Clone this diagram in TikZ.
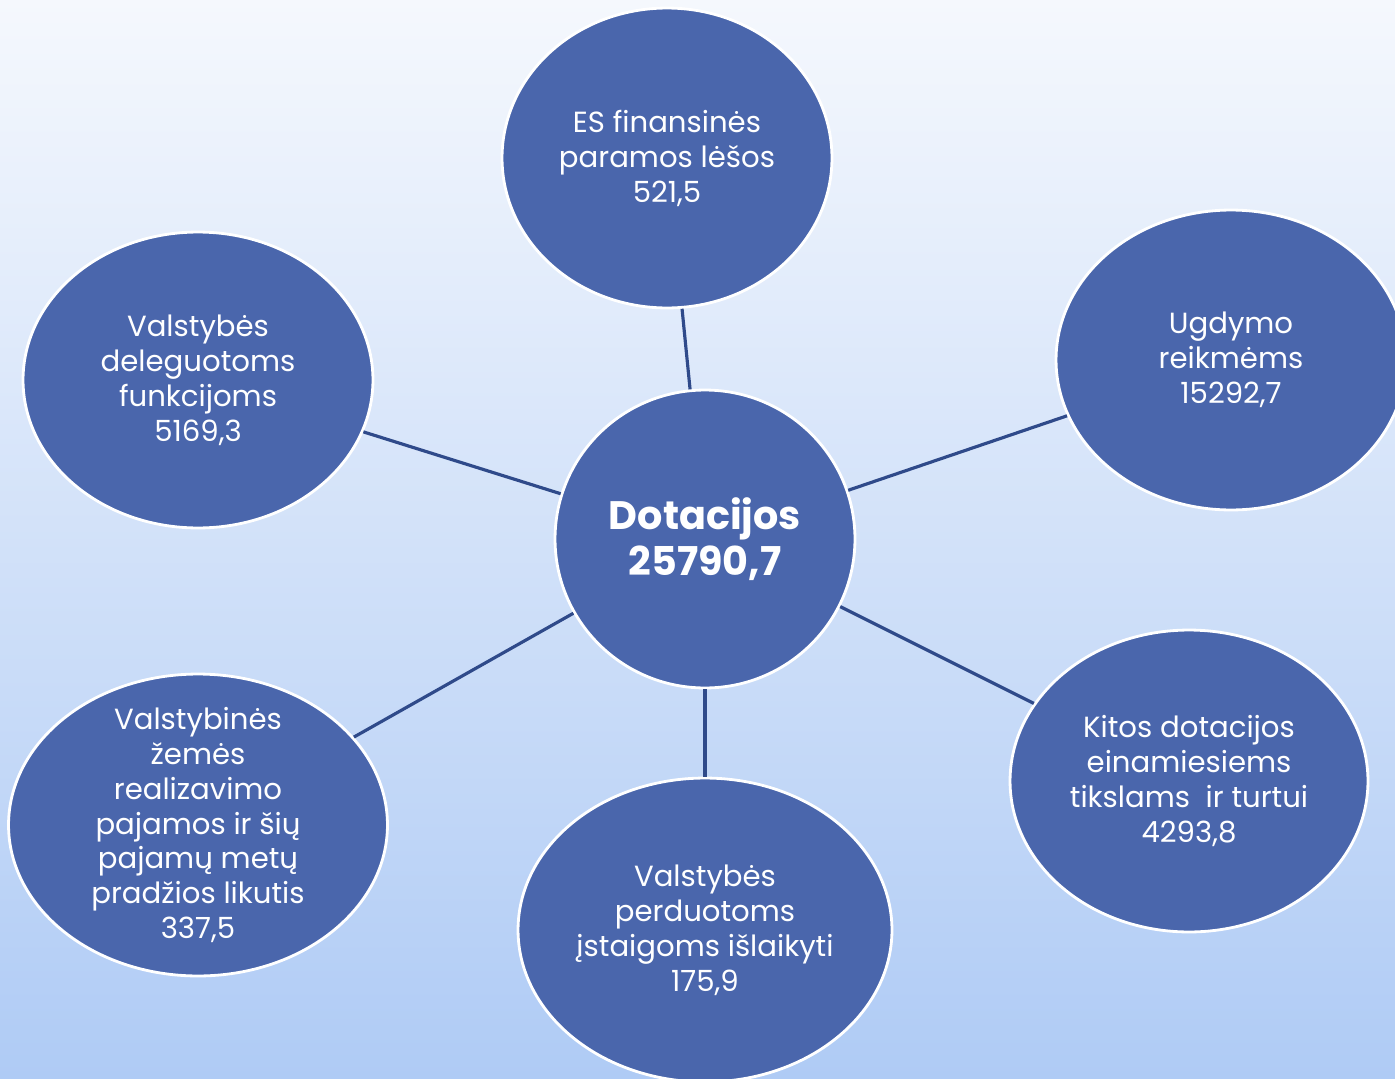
\documentclass[tikz,border=0pt]{standalone}
\usepackage{fontspec}
\setmainfont{Poppins}
\usetikzlibrary{shapes.geometric}
\definecolor{bubble}{HTML}{4A66AC}
\definecolor{spoke}{HTML}{2F4A8A}
\definecolor{skytop}{HTML}{F5F8FD}
\definecolor{skybot}{HTML}{AFCBF5}
\tikzset{
	bubble/.style={ellipse, draw=white, line width=1.6pt, fill=bubble, inner sep=0pt},
	txt/.style={align=center, text=white, font=\fontsize{16.6}{19.9}\selectfont},
	spoke/.style={draw=spoke, line width=1.8pt}
}
\begin{document}
\begin{tikzpicture}[x=0.02cm, y=-0.02cm]
	\useasboundingbox (0,0) rectangle (1395,1078);
	\shade[top color=skytop, bottom color=skybot] (0,0) rectangle (1395,1078);
	% bubbles
	\node[bubble, minimum width=6cm, minimum height=5.96cm] (dot) at (705,539) {};
	\node[bubble, minimum width=6.6cm, minimum height=6cm] (es) at (667,158) {};
	\node[bubble, minimum width=7cm, minimum height=6cm] (ugd) at (1231,360) {};
	\node[bubble, minimum width=7cm, minimum height=5.92cm] (deleg) at (198,380) {};
	\node[bubble, minimum width=7.16cm, minimum height=6.04cm] (kitos) at (1189,781) {};
	\node[bubble, minimum width=7.48cm, minimum height=6.08cm] (perd) at (705,930) {};
	\node[bubble, minimum width=7.58cm, minimum height=6.04cm] (zeme) at (198,825) {};
	% texts
	\node[txt, font=\fontsize{22.6}{26.2}\selectfont\bfseries] at (dot.center) {Dotacijos\\25790,7};
	\node[txt] at (es.center) {ES finansinės\\paramos lėšos\\521,5};
	\node[txt] at (ugd.center) {Ugdymo\\reikmėms\\ 15292,7};
	\node[txt] at (deleg.center) {Valstybės\\deleguotoms\\funkcijoms\\5169,3};
	\node[txt] at (kitos.center) {Kitos dotacijos\\einamiesiems\\tikslams\ \ ir turtui\\4293,8};
	\node[txt] at (perd.center) {Valstybės\\perduotoms\\įstaigoms išlaikyti\\175,9};
	\node[txt] at (zeme.center) {Valstybinės\\žemės\\realizavimo\\pajamos ir šių\\pajamų metų\\pradžios likutis\\337,5};
	% spokes
	\foreach \n in {es, ugd, deleg, kitos, perd, zeme}
		\draw[spoke] (dot) -- (\n);
\end{tikzpicture}
\end{document}
